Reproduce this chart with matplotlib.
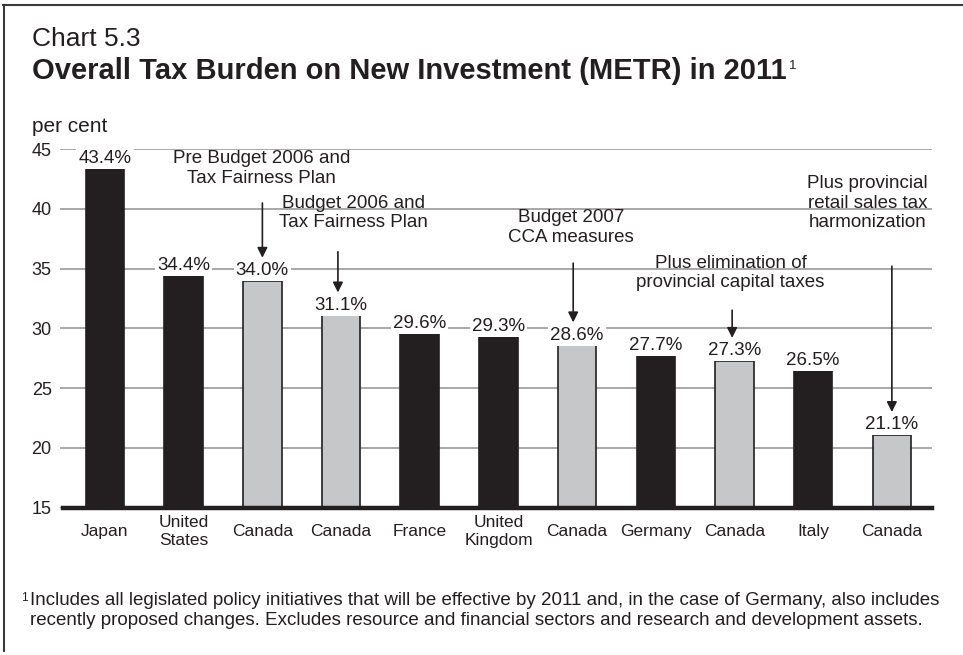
import matplotlib.pyplot as plt
from matplotlib.lines import Line2D

plt.rcParams['font.family'] = ['Liberation Sans', 'DejaVu Sans']

# data
countries = ['Japan', 'United\nStates', 'Canada', 'Canada', 'France', 'United\nKingdom',
             'Canada', 'Germany', 'Canada', 'Italy', 'Canada']
metr = [43.4, 34.4, 34.0, 31.1, 29.6, 29.3, 28.6, 27.7, 27.3, 26.5, 21.1]
is_canada = [c == 'Canada' for c in countries]

notes = ['Pre Budget 2006 and\nTax Fairness Plan',
         'Budget 2006 and\nTax Fairness Plan',
         'Budget 2007\nCCA measures',
         'Plus elimination of\nprovincial capital taxes',
         'Plus provincial\nretail sales tax\nharmonization']
note_bar = [2, 3, 6, 8, 10]

# where each note sits (text x, first baseline y, arrow start y, arrow x shift)
note_x = [1.99, 3.16, 5.92, 7.95, 9.69]
note_y = [42.18, 38.44, 37.24, 33.42, 38.44]
arrow_from = [40.48, 36.40, 35.45, 31.52, 35.2]
arrow_dx = [0.0, -0.04, -0.05, -0.03, 0.0]

footnote = ['Includes all legislated policy initiatives that will be effective by 2011 and, in the case of Germany, also includes',
            'recently proposed changes. Excludes resource and financial sectors and research and development assets.']

W, H = 963, 655
dark = '#231f20'
grey = '#c6c7c9'

fig = plt.figure(figsize=(W / 100, H / 100), dpi=100)
ax = fig.add_axes([60 / W, 1 - 507.7 / H, (932 - 60) / W, (507.7 - 149) / H])

xs = list(range(len(metr)))
colors = [grey if c else dark for c in is_canada]
ax.bar(xs, [v - 15 for v in metr], bottom=15, width=0.49, color=colors,
       edgecolor=dark, linewidth=1.2, zorder=3)

for i, v in enumerate(metr):
    ax.text(i, v + 0.12, f'{v:.1f}%', ha='center', va='bottom', size=13.5, color=dark,
            bbox=dict(facecolor='white', edgecolor='none', pad=1.5), zorder=4)

for k, txt in enumerate(notes):
    b = note_bar[k]
    ax.text(note_x[k], note_y[k], txt, ha='center', va='baseline', size=13.5,
            color=dark, multialignment='center', zorder=5)
    ax.annotate('', xy=(b + arrow_dx[k], metr[b] + 1.9),
                xytext=(b + arrow_dx[k], arrow_from[k]),
                arrowprops=dict(arrowstyle='-|>', color=dark, lw=1.2,
                                mutation_scale=15, shrinkA=0, shrinkB=0),
                zorder=6)

ax.set_xlim(-0.572, 10.51)
ax.set_ylim(15, 45)
ax.set_yticks(range(15, 50, 5))
ax.yaxis.grid(True, color='#9a9a9a', lw=1.2)
ax.set_axisbelow(True)
for s in ax.spines.values():
    s.set_visible(False)
ax.axhline(15, xmin=0.003, color=dark, lw=3.2, zorder=4, clip_on=False)

ax.tick_params(axis='y', length=0, pad=6, labelsize=13, labelcolor=dark)
ax.set_xticks(xs)
ax.set_xticklabels(countries, size=12.5, color=dark)
ax.tick_params(axis='x', length=0, pad=17)
for lab in ax.get_xticklabels():
    lab.set_va('center')

# titles
fig.text(32 / W, 1 - 45.5 / H, 'Chart 5.3', size=19, va='baseline', color=dark)
title = fig.text(32 / W, 1 - 79.3 / H, 'Overall Tax Burden on New Investment (METR) in 2011',
                 size=21, weight='bold', va='baseline', color=dark)
fig.text(32 / W, 1 - 131.7 / H, 'per cent', size=15, va='baseline', color=dark)

# footnote
fig.text(20.7 / W, 1 - 592 / H, '1', size=8.5, va='top', color=dark)
fig.text(30 / W, 1 - 605 / H, footnote[0], size=13.5, va='baseline', color=dark)
fig.text(30 / W, 1 - 624.6 / H, footnote[1], size=13.5, va='baseline', color=dark)

# superscript after the title
fig.canvas.draw()
bb = title.get_window_extent(fig.canvas.get_renderer())
fig.text((bb.x1 + 2) / W, 1 - 60 / H, '1', size=9.5, va='top', color=dark)

# frame (top and left edges)
fig.add_artist(Line2D([3 / W, 1], [1 - 5 / H, 1 - 5 / H], color='#3a3a3a', lw=1.5))
fig.add_artist(Line2D([4 / W, 4 / W], [1 - 5 / H, 1 - 651 / H], color='#3a3a3a', lw=1.5))

fig.savefig('out.png', dpi=100)
